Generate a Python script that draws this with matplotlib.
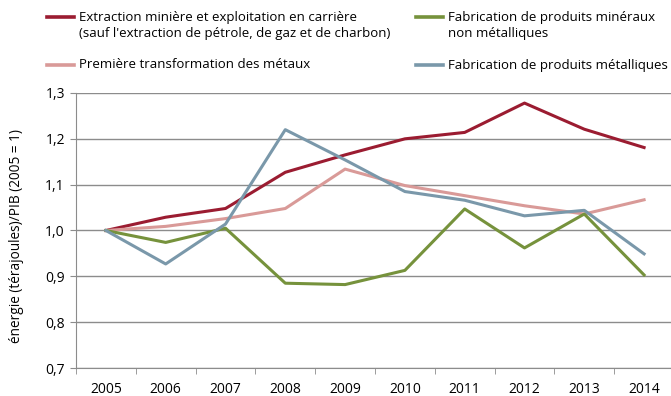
import matplotlib.pyplot as plt
from matplotlib.lines import Line2D
from matplotlib.ticker import FixedLocator, FuncFormatter

plt.rcParams['font.family'] = ['Open Sans', 'DejaVu Sans']

years = [2005, 2006, 2007, 2008, 2009, 2010, 2011, 2012, 2013, 2014]

extraction = [1.000, 1.029, 1.048, 1.127, 1.165, 1.200, 1.214, 1.278, 1.221, 1.181]
mineraux = [1.000, 0.974, 1.005, 0.885, 0.882, 0.913, 1.047, 0.962, 1.036, 0.903]
premiere = [1.000, 1.009, 1.026, 1.048, 1.134, 1.098, 1.076, 1.054, 1.036, 1.067]
metalliques = [1.000, 0.927, 1.014, 1.220, 1.154, 1.085, 1.066, 1.032, 1.044, 0.949]

labels = [
    ["Extraction minière et exploitation en carrière",
     "(sauf l'extraction de pétrole, de gaz et de charbon)"],
    ["Première transformation des métaux"],
    ["Fabrication de produits minéraux", "non métalliques"],
    ["Fabrication de produits métalliques"],
]
colors = ['#9b1c31', '#d99a98', '#76923c', '#7a98aa']

W, H = 671, 396
fig = plt.figure(figsize=(W / 100, H / 100), dpi=100)
ax = fig.add_axes([76 / W, 1 - 368 / H, 1 - 76 / W, 275 / H])

series = [extraction, premiere, mineraux, metalliques]
for vals, c in zip(series, colors):
    ax.plot(years, vals, color=c, linewidth=2.2, solid_joinstyle='round')

ax.set_xlim(2004.5, 2014.45)
ax.set_ylim(0.7, 1.3)
ax.set_yticks([0.7, 0.8, 0.9, 1.0, 1.1, 1.2, 1.3])
ax.yaxis.set_major_formatter(FuncFormatter(lambda v, p: f"{v:.1f}".replace('.', ',')))
ax.set_xticks(years)
ax.xaxis.set_minor_locator(FixedLocator([y + 0.5 for y in [2004] + years]))
ax.grid(axis='y', color='#8c8c8c', linewidth=1)
ax.set_axisbelow(True)

for s in ['top', 'right']:
    ax.spines[s].set_visible(False)
ax.spines['left'].set_color('#8c8c8c')
ax.spines['bottom'].set_color('#8c8c8c')
ax.tick_params(axis='y', length=4, color='#8c8c8c', labelsize=10, pad=4)
ax.tick_params(axis='x', which='major', length=0, labelsize=10, pad=10)
ax.tick_params(axis='x', which='minor', length=4, color='#8c8c8c')

fig.text(17 / W, 1 - 236 / H, "énergie (térajoules)/PIB (2005 = 1)",
         rotation=90, ha='center', va='center', fontsize=9.8)

# legend drawn by hand: two columns, handle level with the first text line
legend_pos = [(47, 17), (47, 65), (416, 17), (416, 65)]
for (px, py), c, lines in zip(legend_pos, colors, labels):
    fig.add_artist(Line2D([px / W, (px + 27) / W], [1 - py / H, 1 - py / H],
                          color=c, linewidth=2.6))
    for i, line in enumerate(lines):
        fig.text((px + 32) / W, 1 - (py + 17 * i) / H, line,
                 ha='left', va='center', fontsize=9.5)

fig.savefig('out.png', dpi=100)
